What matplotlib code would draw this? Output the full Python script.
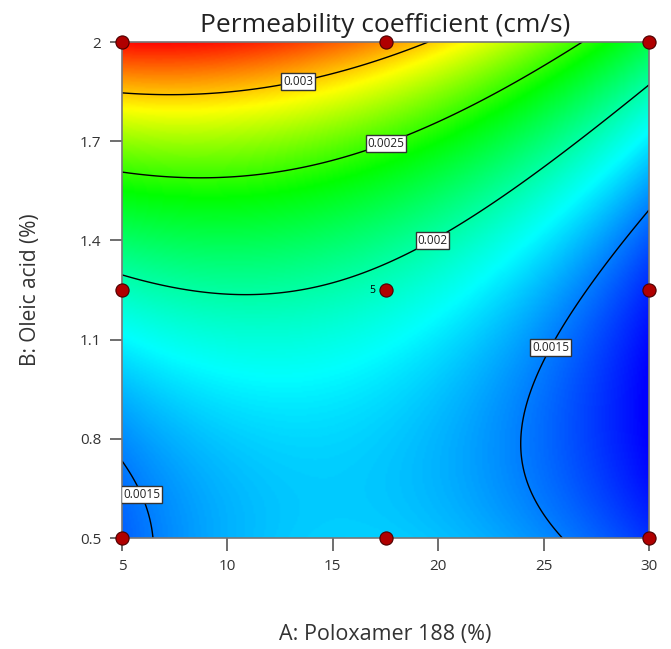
import numpy as np
import matplotlib
matplotlib.use("Agg")
import matplotlib.pyplot as plt
from matplotlib.colors import LinearSegmentedColormap

plt.rcParams['font.family'] = ['Open Sans', 'DejaVu Sans']

# ---- data ----
title = "Permeability coefficient (cm/s)"
xlabel = "A: Poloxamer 188 (%)"
ylabel = "B: Oleic acid (%)"
x_ticks = [5, 10, 15, 20, 25, 30]
y_ticks = [0.5, 0.8, 1.1, 1.4, 1.7, 2.0]
y_ticklabels = ["0.5", "0.8", "1.1", "1.4", "1.7", "2"]
contour_levels = [0.0015, 0.002, 0.0025, 0.003]

# design points (A, B) and replicate counts
design_A = [5, 17.5, 30, 5, 17.5, 30, 5, 17.5, 30]
design_B = [0.5, 0.5, 0.5, 1.25, 1.25, 1.25, 2.0, 2.0, 2.0]
design_reps = [1, 1, 1, 1, 5, 1, 1, 1, 1]

# traced contour points (A, B) for each level
c0015_right_A = [30, 26.7, 26.1, 25.15, 24.1, 23.88, 24.44, 25.54]
c0015_right_B = [1.504, 1.22, 1.159, 1.09, 0.917, 0.776, 0.615, 0.5]
c0015_left_A = [5, 5.93, 6.2, 6.42]
c0015_left_B = [0.739, 0.655, 0.594, 0.5]
c002_A = [5, 6.8, 11.07, 15.8, 19.7, 25.3, 30]
c002_B = [1.292, 1.271, 1.235, 1.28, 1.404, 1.638, 1.876]
c0025_A = [5, 9.17, 13.44, 17.48, 19.6, 24.83, 26.8]
c0025_B = [1.604, 1.589, 1.611, 1.70, 1.734, 1.91, 2.0]
c003_A = [5, 7.1, 11.07, 13.1, 18.8, 19.5]
c003_B = [1.847, 1.84, 1.855, 1.897, 1.976, 2.0]
# estimated response values at a few extra spots (from colour)
extra_A = [5, 30, 15, 30]
extra_B = [2.0, 0.75, 0.5, 1.0]
extra_val = [0.0034, 0.00125, 0.00175, 0.00132]

# response values at which the colour scale passes blue, cyan, green, yellow, red
colour_stop_values = [0.00122, 0.00178, 0.00240, 0.00290, 0.00340]
colour_stop_colours = ["#0000ff", "#00ffff", "#00ff00", "#ffff00", "#ff0000"]

# ---- fit a cubic response surface to the read values ----
def coded(a, b):
    return (np.asarray(a) - 17.5) / 12.5, (np.asarray(b) - 1.25) / 0.75

def basis(a, b):
    x1, x2 = coded(a, b)
    return np.stack([np.ones_like(x1), x1, x2, x1 * x2, x1**2, x2**2,
                     x1**2 * x2, x1 * x2**2, x1**3, x2**3], axis=-1)

pts_A, pts_B, pts_v = [], [], []
for A, B, lev in [(c0015_right_A, c0015_right_B, 0.0015),
                  (c0015_left_A, c0015_left_B, 0.0015),
                  (c002_A, c002_B, 0.002),
                  (c0025_A, c0025_B, 0.0025),
                  (c003_A, c003_B, 0.003)]:
    pts_A += A; pts_B += B; pts_v += [lev] * len(A)
pts_A += extra_A; pts_B += extra_B; pts_v += extra_val
M = basis(np.array(pts_A, float), np.array(pts_B, float))
w = np.ones(len(pts_v)); w[-len(extra_val):] = 0.5
coef, *_ = np.linalg.lstsq(M * w[:, None], np.array(pts_v) * w, rcond=None)

ga = np.linspace(5, 30, 300)
gb = np.linspace(0.5, 2.0, 300)
GA, GB = np.meshgrid(ga, gb)
Z = basis(GA, GB) @ coef

vmin, vmax = colour_stop_values[0], colour_stop_values[-1]
pos = [(v - vmin) / (vmax - vmin) for v in colour_stop_values]
cmap = LinearSegmentedColormap.from_list("de", list(zip(pos, colour_stop_colours)))

fig = plt.figure(figsize=(6.71, 6.49), dpi=100)
ax = fig.add_axes([122 / 671, 1 - 538 / 649, (649 - 122) / 671, (538 - 42) / 649])
ax.imshow(Z, origin="lower", extent=[5, 30, 0.5, 2.0], aspect="auto",
          cmap=cmap, vmin=vmin, vmax=vmax, interpolation="bilinear")
cs = ax.contour(GA, GB, Z, levels=contour_levels, colors="black", linewidths=1.0)
lbls = ax.clabel(cs, fmt=lambda v: f"{v:g}", fontsize=8.5, inline=False,
                 manual=[(6.1, 0.636), (25.07, 1.084), (19.7, 1.404), (17.5, 1.70), (13.3, 1.895)])
for t in lbls:
    t.set_rotation(0)
    t.set_color("#222222")
    t.set_zorder(4)
    t.set_bbox(dict(facecolor="white", edgecolor="#333333", boxstyle="square,pad=0.15", linewidth=1.0))

ax.scatter(design_A, design_B, s=90, color="#b00000", edgecolor="#4a0000",
           linewidth=0.8, zorder=5, clip_on=False)
for a, b, r in zip(design_A, design_B, design_reps):
    if r > 1:
        ax.text(a - 0.5, b, str(r), fontsize=7.5, ha="right", va="center", zorder=6)

ax.set_xlim(5, 30)
ax.set_ylim(0.5, 2.0)
ax.set_xticks(x_ticks)
ax.set_yticks(y_ticks)
ax.set_yticklabels(y_ticklabels)
ax.tick_params(direction="out", length=9, width=1.2, color="#555555",
               labelsize=11, labelcolor="#333333", pad=6)
for s in ax.spines.values():
    s.set_color("#777777")
    s.set_linewidth(1.2)
ax.set_title(title, fontsize=19, color="#222222", pad=7)
ax.set_xlabel(xlabel, fontsize=15.5, color="#333333", labelpad=36)
ax.set_ylabel(ylabel, fontsize=15, color="#333333", labelpad=28)

fig.savefig("out.png", dpi=100)
